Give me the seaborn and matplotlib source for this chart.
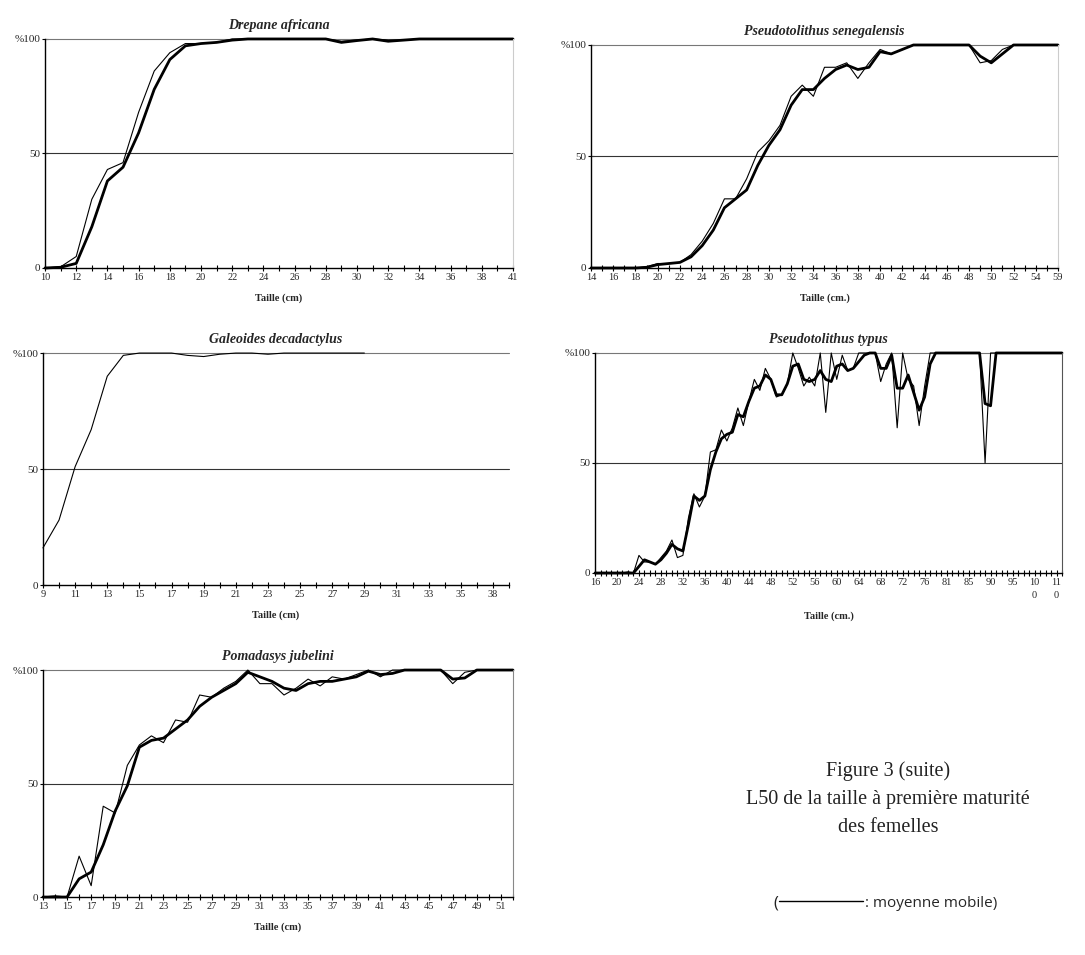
import numpy as np
import pandas as pd
import matplotlib
matplotlib.use("Agg")
import matplotlib.pyplot as plt
from matplotlib.lines import Line2D
import seaborn as sns

# DATA: % of mature females per size class (cm)
# thin line = observed, thick line = moving average ("moyenne mobile")

# Drepane africana
drep_sizes = list(range(10, 40)) + [41]
drep_obs = [0, 0.5, 5, 30, 43, 46, 68, 86, 94, 98, 98, 98.5, 100, 100, 100, 100,
            100, 100, 100, 99, 99.5, 100, 99.5, 99.5, 100, 100, 100, 100, 100, 100, 100]
drep_mm = [0, 0.3, 2, 18, 38, 44, 59, 78, 91, 97, 98, 98.5, 99.5, 100, 100, 100,
           100, 100, 100, 98.5, 99.3, 100, 99, 99.5, 100, 100, 100, 100, 100, 100, 100]
drep_ticks = list(range(10, 40, 2)) + [41]

# Pseudotolithus senegalensis
sen_sizes = list(range(14, 56)) + [59]
sen_obs = [0, 0, 0, 0, 0, 0.5, 2, 2, 2.5, 6, 12, 20, 31, 31, 40, 52, 57, 64, 77, 82,
           77, 90, 90, 92, 85, 92, 98, 96, 98, 100, 100, 100, 100, 100, 100, 92, 93, 98,
           100, 100, 100, 100, 100]
sen_mm = [0, 0, 0, 0, 0, 0.3, 1.5, 2, 2.5, 5, 10, 17, 27, 31, 35, 46, 55, 62, 73, 80,
          80, 85, 89, 91, 89, 90, 97, 96, 98, 100, 100, 100, 100, 100, 100, 95, 92, 96,
          100, 100, 100, 100, 100]
sen_ticks = list(range(14, 56, 2)) + [59]

# Galeoides decadactylus
gal_sizes = list(range(9, 37)) + [38, 39]
gal_obs = [16, 28, 51, 67, 90, 99, 100, 100, 100, 99, 98.5, 99.5, 100, 100, 99.5, 100,
           100, 100, 100, 100, 100] + [np.nan] * 9
gal_ticks = list(range(9, 37, 2)) + [38]

# Pseudotolithus typus
typ_sizes = (list(range(16, 79)) + [80, 81, 82, 83, 84, 85, 86, 87, 88, 90, 91, 92, 93,
                                    95, 96, 98, 99, 100, 102, 105, 108, 110, 112])
typ_obs = ([0, 0, 0, 0, 0, 0, 0.5, 0, 8, 5, 5, 4, 7, 10, 15, 7, 8, 25, 36, 30, 35, 55,
            56, 65, 60, 66, 75, 67, 78, 88, 83, 93, 88, 80, 81, 86, 100, 93, 85, 89, 85,
            100, 73, 100, 88, 99, 92, 93, 100, 100, 100, 100, 87, 95, 100, 66, 100, 88,
            85, 67, 85, 100, 100]
           + [100] * 8 + [50] + [100] * 14)
typ_mm = ([0, 0, 0, 0, 0, 0, 0, 0, 3, 6, 5, 4, 6, 9, 13, 11, 10, 22, 35, 33, 35, 47,
           55, 61, 63, 64, 72, 71, 78, 84, 85, 90, 88, 81, 81, 86, 94, 95, 88, 87, 88,
           92, 88, 87, 94, 95, 92, 93, 96, 99, 100, 100, 93, 93, 99, 84, 84, 90, 82,
           74, 80, 95, 100]
          + [100] * 8 + [77, 76] + [100] * 13)
typ_ticks = list(range(16, 77, 4)) + [81, 85, 90, 95, 100, 110]

# Pomadasys jubelini
pom_sizes = list(range(13, 53))
pom_obs = [0, 0.5, 0, 18, 5, 40, 37, 58, 67, 71, 68, 78, 77, 89, 88, 92, 95, 100, 94,
           94, 89, 92, 96, 93, 97, 96, 98, 100, 97, 100, 100, 100, 100, 100, 94, 99,
           100, 100, 100, 100]
pom_mm = [0, 0, 0, 8, 11, 23, 38, 49, 66, 69, 70, 74, 78, 84, 88, 91, 94, 99, 97, 95,
          92, 91, 94, 95, 95, 96, 97, 99.5, 98, 98.5, 100, 100, 100, 100, 96, 96.5, 100,
          100, 100, 100]
pom_ticks = list(range(13, 53, 2))

y_ticks = [0, 50, 100]
y_labels = ["0", "50", "%100"]

titles = ["Drepane africana", "Pseudotolithus senegalensis", "Galeoides decadactylus",
          "Pseudotolithus typus", "Pomadasys jubelini"]
xlabels = ["Taille (cm)", "Taille (cm.)", "Taille (cm)", "Taille (cm.)", "Taille (cm)"]

caption = ["Figure 3 (suite)", "L50 de la taille à première maturité", "des femelles"]
legend_text = ": moyenne mobile)"


def tidy(sizes, obs, mm=None):
    pos = np.arange(len(sizes))
    frames = [pd.DataFrame({"pos": pos, "pct": obs, "serie": "obs"})]
    if mm is not None:
        frames.append(pd.DataFrame({"pos": pos, "pct": mm, "serie": "mm"}))
    return pd.concat(frames, ignore_index=True)


panels = [
    (tidy(drep_sizes, drep_obs, drep_mm), drep_sizes, drep_ticks, [0.0415, 0.7194, 0.4313, 0.2398], "#cccccc"),
    (tidy(sen_sizes, sen_obs, sen_mm), sen_sizes, sen_ticks, [0.5447, 0.7194, 0.4304, 0.2335], "#cccccc"),
    (tidy(gal_sizes, gal_obs), gal_sizes, gal_ticks, [0.0396, 0.3874, 0.4295, 0.2429], None),
    (tidy(typ_sizes, typ_obs, typ_mm), typ_sizes, typ_ticks, [0.5484, 0.4000, 0.4304, 0.2304], "#555555"),
    (tidy(pom_sizes, pom_obs, pom_mm), pom_sizes, pom_ticks, [0.0396, 0.0607, 0.4332, 0.2377], "#888888"),
]

sns.set_theme(style="white")
plt.rcParams["font.family"] = ["Liberation Serif", "DejaVu Serif"]

fig = plt.figure(figsize=(10.85, 9.55), dpi=100)

for i, (df, sizes, ticks, rect, rcol) in enumerate(panels):
    ax = fig.add_axes(rect)
    ax.axhline(50, color="#333333", lw=0.8, zorder=1)
    ax.axhline(100, color="#777777", lw=0.8, zorder=1)
    sns.lineplot(data=df, x="pos", y="pct", hue="serie", size="serie",
                 palette={"obs": "black", "mm": "black"},
                 sizes={"obs": 0.8, "mm": 2.0}, errorbar=None, legend=False, ax=ax)
    for ln in ax.lines:
        ln.set_clip_on(False)
    n = len(sizes)
    ax.set_xlim(0, n - 1)
    ax.set_ylim(0, 100)
    ax.set_xticks(np.arange(n), minor=True)
    ax.set_xticks([sizes.index(t) for t in ticks])
    ax.set_xticklabels([str(t) if t < 100 else str(t)[:2] + "\n" + str(t)[2:] for t in ticks],
                       fontsize=7.5, linespacing=1.6)
    ax.set_yticks(y_ticks)
    ax.set_yticklabels(y_labels, fontsize=8)
    ax.tick_params(axis="x", which="both", direction="inout", length=5, width=0.8,
                   color="black", pad=1, bottom=True)
    ax.tick_params(axis="y", which="both", direction="inout", length=5, width=0.8,
                   color="black", pad=1, left=True)
    for side in ["left", "bottom"]:
        ax.spines[side].set_color("black")
        ax.spines[side].set_linewidth(1.0)
    ax.spines["top"].set_visible(False)
    if rcol is None:
        ax.spines["right"].set_visible(False)
    else:
        ax.spines["right"].set_color(rcol)
        ax.spines["right"].set_linewidth(0.8)
    ax.set_title(titles[i], fontsize=10, fontstyle="italic", fontweight="bold", pad=7)
    ax.set_xlabel(xlabels[i], fontsize=7.5, fontweight="bold", labelpad=8)
    ax.set_ylabel("")

# caption block
cx = 888 / 1085
for k, line in enumerate(caption):
    fig.text(cx, 1 - (771 + 28 * k) / 955, line, ha="center", va="center",
             fontsize=14.5, color="#222222")

fig.text(773 / 1085, 1 - 903 / 955, "(", ha="left", va="center", fontsize=12,
         family=["Open Sans", "DejaVu Sans"], color="#222222")
fig.legend(handles=[Line2D([], [], color="black", lw=1.0)], labels=[legend_text],
           loc="center left", bbox_to_anchor=(779 / 1085, 1 - 903 / 955),
           frameon=False, handlelength=5.5, handletextpad=0.1,
           borderpad=0, borderaxespad=0,
           prop={"family": ["Open Sans", "DejaVu Sans"], "size": 11})

fig.savefig("out.png", dpi=100, facecolor="white")
